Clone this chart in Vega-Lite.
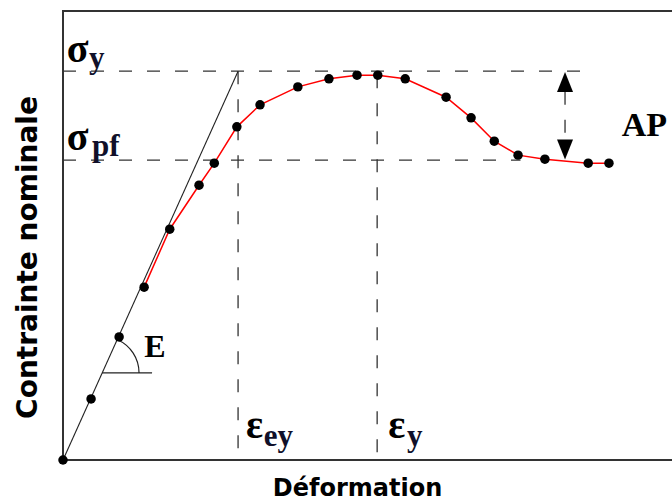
{
  "$schema": "https://vega.github.io/schema/vega-lite/v6.json",
  "width": 610,
  "height": 449,
  "autosize": "none",
  "padding": {"left": 63, "top": 11, "right": 0, "bottom": 40},
  "background": "white",
  "config": {"view": {"stroke": "#333333", "strokeWidth": 2}},
  "datasets": {
    "pts": [
      {"x": 0, "y": 0}, {"x": 4.6, "y": 13.6}, {"x": 9.2, "y": 27.4}, {"x": 13.3, "y": 38.5},
      {"x": 17.5, "y": 51.4}, {"x": 22.3, "y": 61.2}, {"x": 24.8, "y": 66.1}, {"x": 28.5, "y": 74.2},
      {"x": 32.3, "y": 79.1}, {"x": 38.5, "y": 83.1}, {"x": 43.6, "y": 84.9}, {"x": 48.2, "y": 85.7},
      {"x": 51.6, "y": 85.7}, {"x": 56.1, "y": 84.9}, {"x": 62.8, "y": 80.8}, {"x": 66.9, "y": 76.2},
      {"x": 70.7, "y": 71.0}, {"x": 74.6, "y": 67.9}, {"x": 79.0, "y": 67.0}, {"x": 86.1, "y": 66.1},
      {"x": 89.5, "y": 66.1}
    ],
    "red": [
      {"x": 13.3, "y": 38.5},
      {"x": 17.5, "y": 51.4}, {"x": 22.3, "y": 61.2}, {"x": 24.8, "y": 66.1}, {"x": 28.5, "y": 74.2},
      {"x": 32.3, "y": 79.1}, {"x": 38.5, "y": 83.1}, {"x": 43.6, "y": 84.9}, {"x": 48.2, "y": 85.7},
      {"x": 51.6, "y": 85.7}, {"x": 56.1, "y": 84.9}, {"x": 62.8, "y": 80.8}, {"x": 66.9, "y": 76.2},
      {"x": 70.7, "y": 71.0}, {"x": 74.6, "y": 67.9}, {"x": 79.0, "y": 67.0}, {"x": 86.1, "y": 66.1},
      {"x": 89.5, "y": 66.1}
    ],
    "refs": [
      {"x": 0, "x2": 84.9, "y": 86.6, "y2": 86.6},
      {"x": 0, "x2": 75.0, "y": 66.8, "y2": 66.8},
      {"x": 28.7, "x2": 28.7, "y": 86.6, "y2": 1.3},
      {"x": 51.5, "x2": 51.5, "y": 85.7, "y2": 1.3},
      {"x": 82.3, "x2": 82.3, "y": 82.0, "y2": 71.5}
    ]
  },
  "encoding": {
    "x": {"field": "x", "type": "quantitative",
      "scale": {"domain": [0, 100], "nice": false, "zero": false},
      "axis": {"domain": false, "ticks": false, "labels": false, "grid": false,
        "title": "Déformation", "titleFont": "DejaVu Sans", "titleFontWeight": "bold",
        "titleFontSize": 24, "titleColor": "#000000", "titleX": 294, "titleY": 35,
        "titleAlign": "center", "titleBaseline": "alphabetic"}},
    "y": {"field": "y", "type": "quantitative",
      "scale": {"domain": [0, 100], "nice": false, "zero": false},
      "axis": {"domain": false, "ticks": false, "labels": false, "grid": false,
        "title": "Contrainte nominale", "titleFont": "DejaVu Sans", "titleFontWeight": "bold",
        "titleFontSize": 28, "titleColor": "#000000", "titleX": -35, "titleY": 246,
        "titleAngle": -90, "titleAlign": "center", "titleBaseline": "middle"}}
  },
  "layer": [
    {
      "data": {"name": "refs"},
      "mark": {"type": "rule", "color": "#333333", "strokeWidth": 1.3, "strokeDash": [13, 15]},
      "encoding": {"x2": {"field": "x2"}, "y2": {"field": "y2"}}
    },
    {
      "data": {"values": [{"x": 0, "y": 0, "x2": 28.7, "y2": 86.6}, {"x": 6.4, "y": 19.4, "x2": 14.6, "y2": 19.4}]},
      "mark": {"type": "rule", "color": "#222222", "strokeWidth": 1.1},
      "encoding": {"x2": {"field": "x2"}, "y2": {"field": "y2"}}
    },
    {
      "data": {"values": [{"x": 6.5, "y": 19.4}]},
      "mark": {"type": "arc", "theta": 0.422, "theta2": 1.5708, "radius": 37, "radius2": 35.8, "fill": "#222222"}
    },
    {
      "data": {"name": "red"},
      "mark": {"type": "line", "color": "#ff0000", "strokeWidth": 1.5}
    },
    {
      "data": {"name": "pts"},
      "mark": {"type": "point", "filled": true, "color": "#000000", "opacity": 1, "size": 90}
    },
    {
      "data": {"values": [{"x": 82.3, "y": 84.2}]},
      "mark": {"type": "point", "filled": true, "color": "#000000", "opacity": 1, "size": 400, "shape": "M0,-1L0.8,1L-0.8,1Z"}
    },
    {
      "data": {"values": [{"x": 82.3, "y": 69.15}]},
      "mark": {"type": "point", "filled": true, "color": "#000000", "opacity": 1, "size": 400, "shape": "M0,1L0.8,-1L-0.8,-1Z"}
    },
    {
      "data": {"values": [{"x": 0.6, "y": 88.6, "t": "σ"}, {"x": 0.6, "y": 69.0, "t": "σ"}, {"x": 30.0, "y": 4.9, "t": "ε"}, {"x": 53.3, "y": 4.9, "t": "ε"}]},
      "mark": {"type": "text", "font": "Liberation Serif", "fontSize": 40, "fontWeight": "bold", "align": "left", "baseline": "alphabetic", "color": "#000000"},
      "encoding": {"text": {"field": "t"}}
    },
    {
      "data": {"values": [{"x": 4.26, "y": 87.3, "t": "y"}, {"x": 4.75, "y": 67.7, "t": "pf"}, {"x": 32.9, "y": 3.1, "t": "ey"}, {"x": 56.4, "y": 3.1, "t": "y"}]},
      "mark": {"type": "text", "font": "Liberation Serif", "fontSize": 31, "fontWeight": "bold", "align": "left", "baseline": "alphabetic", "color": "#10102a"},
      "encoding": {"text": {"field": "t"}}
    },
    {
      "data": {"values": [{"x": 13.3, "y": 22.9, "t": "E"}]},
      "mark": {"type": "text", "font": "Liberation Serif", "fontSize": 32, "fontWeight": "bold", "align": "left", "baseline": "alphabetic", "color": "#000000"},
      "encoding": {"text": {"field": "t"}}
    },
    {
      "data": {"values": [{"x": 91.6, "y": 72.2, "t": "AP"}]},
      "mark": {"type": "text", "font": "Liberation Serif", "fontSize": 34, "fontWeight": "bold", "align": "left", "baseline": "alphabetic", "color": "#000000"},
      "encoding": {"text": {"field": "t"}}
    }
  ]
}
